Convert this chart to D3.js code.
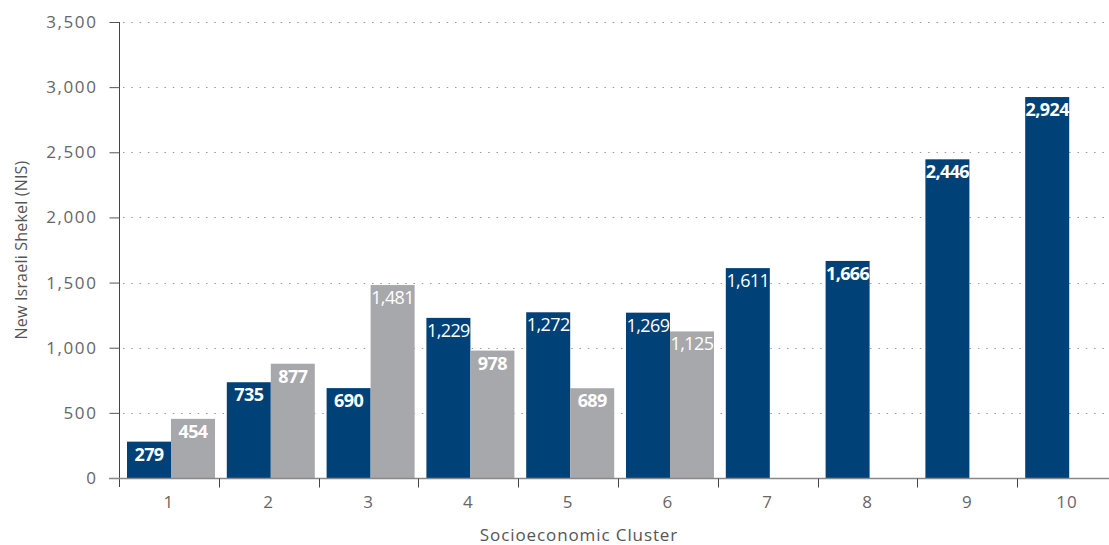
<!DOCTYPE html>
<html>
<head>
<meta charset="utf-8">
<script src="https://cdn.jsdelivr.net/npm/d3@7"></script>
<style>
  body { margin: 0; background: #fff; }
  text { font-family: "Open Sans", "DejaVu Sans", sans-serif; }
</style>
</head>
<body>
<div id="chart"></div>
<script>
  // Socioeconomic clusters
  const clusters = ['1', '2', '3', '4', '5', '6', '7', '8', '9', '10'];
  // First series (navy)
  const seriesA = [279, 735, 690, 1229, 1272, 1269, 1611, 1666, 2446, 2924];
  // Second series (gray), only clusters 1-6
  const seriesB = [454, 877, 1481, 978, 689, 1125, null, null, null, null];
  const yTicks = [0, 500, 1000, 1500, 2000, 2500, 3000, 3500];

  const width = 1109, height = 545;
  const margin = { left: 119, right: 0, top: 22, bottom: 67 };
  const navy = '#004178', gray = '#a7a8ab';

  // labels that come out in a thinner weight in the original
  const thinA = [3, 4, 5, 6], thinB = [2, 5];

  const svg = d3.select('#chart').append('svg')
    .attr('width', width)
    .attr('height', height);

  const x = d3.scaleBand()
    .domain(clusters)
    .range([margin.left, margin.left + 998]);

  const y = d3.scaleLinear()
    .domain([0, 3500])
    .range([height - margin.bottom, margin.top]);

  const barW = 44, pad = 8;

  // dotted gridlines
  svg.append('g')
    .selectAll('line')
    .data(yTicks.filter(d => d > 0))
    .enter().append('line')
    .attr('x1', margin.left + 4)
    .attr('x2', width)
    .attr('y1', d => Math.round(y(d)) + 0.5)
    .attr('y2', d => Math.round(y(d)) + 0.5)
    .attr('stroke', '#9a9a9a')
    .attr('stroke-width', 1.2)
    .attr('stroke-dasharray', '1.5,6.8');

  // bars
  const bars = svg.append('g');
  bars.selectAll('rect.a')
    .data(seriesA)
    .enter().append('rect')
    .attr('class', 'a')
    .attr('x', (d, i) => x(clusters[i]) + pad)
    .attr('y', d => y(d))
    .attr('width', barW)
    .attr('height', d => y(0) - y(d))
    .attr('fill', navy);

  bars.selectAll('rect.b')
    .data(seriesB)
    .enter().filter(d => d != null).append('rect')
    .attr('class', 'b')
    .attr('x', (d, i) => x(clusters[i]) + pad + barW)
    .attr('y', d => y(d))
    .attr('width', barW)
    .attr('height', d => y(0) - y(d))
    .attr('fill', gray);

  const fmt = d3.format(',');

  // value labels
  const labels = svg.append('g')
    .attr('fill', '#fff')
    .attr('font-size', 18)
    .attr('text-anchor', 'middle');

  seriesA.forEach((d, i) => {
    labels.append('text')
      .attr('x', x(clusters[i]) + pad + barW / 2)
      .attr('y', y(d) + 19)
      .attr('font-weight', thinA.includes(i) ? 400 : 700)
      .attr('letter-spacing', -0.6)
      .text(fmt(d));
  });
  seriesB.forEach((d, i) => {
    if (d == null) return;
    labels.append('text')
      .attr('x', x(clusters[i]) + pad + barW * 1.5)
      .attr('y', y(d) + 19)
      .attr('font-weight', thinB.includes(i) ? 400 : 700)
      .attr('letter-spacing', -0.6)
      .text(fmt(d));
  });

  // y axis
  const yAxis = svg.append('g')
    .attr('transform', `translate(${margin.left + 0.5},0)`)
    .call(d3.axisLeft(y).tickValues(yTicks).tickFormat(fmt).tickSize(10).tickPadding(12));
  yAxis.select('.domain')
    .attr('d', `M0,${margin.top}V${y(0) + 9}`)
    .attr('stroke', '#444');
  yAxis.selectAll('.tick line').attr('stroke', '#555');
  yAxis.selectAll('.tick text')
    .attr('fill', '#666')
    .attr('font-size', 17)
    .attr('letter-spacing', 1.6);

  // x axis
  const xAxisG = svg.append('g')
    .attr('transform', `translate(0,${Math.round(y(0)) + 0.5})`);
  xAxisG.append('line')
    .attr('x1', margin.left - 10)
    .attr('x2', width)
    .attr('stroke', '#888')
    .attr('stroke-width', 1.3);
  xAxisG.selectAll('line.tk')
    .data(clusters.slice(1))
    .enter().append('line')
    .attr('class', 'tk')
    .attr('x1', d => Math.round(x(d)) + 0.5)
    .attr('x2', d => Math.round(x(d)) + 0.5)
    .attr('y1', 0)
    .attr('y2', 9)
    .attr('stroke', '#444');
  xAxisG.selectAll('text')
    .data(clusters)
    .enter().append('text')
    .attr('x', d => x(d) + x.bandwidth() / 2)
    .attr('y', 29)
    .attr('text-anchor', 'middle')
    .attr('fill', '#666')
    .attr('font-size', 17)
    .attr('letter-spacing', 1)
    .text(d => d);

  // axis titles
  svg.append('text')
    .attr('transform', `translate(27,${(margin.top + y(0)) / 2}) rotate(-90)`)
    .attr('text-anchor', 'middle')
    .attr('fill', '#555')
    .attr('font-size', 16)
    .attr('letter-spacing', 0.2)
    .text('New Israeli Shekel (NIS)');

  svg.append('text')
    .attr('x', 579)
    .attr('y', 541)
    .attr('text-anchor', 'middle')
    .attr('fill', '#555')
    .attr('font-size', 17)
    .attr('letter-spacing', 0.9)
    .text('Socioeconomic Cluster');
</script>
</body>
</html>
